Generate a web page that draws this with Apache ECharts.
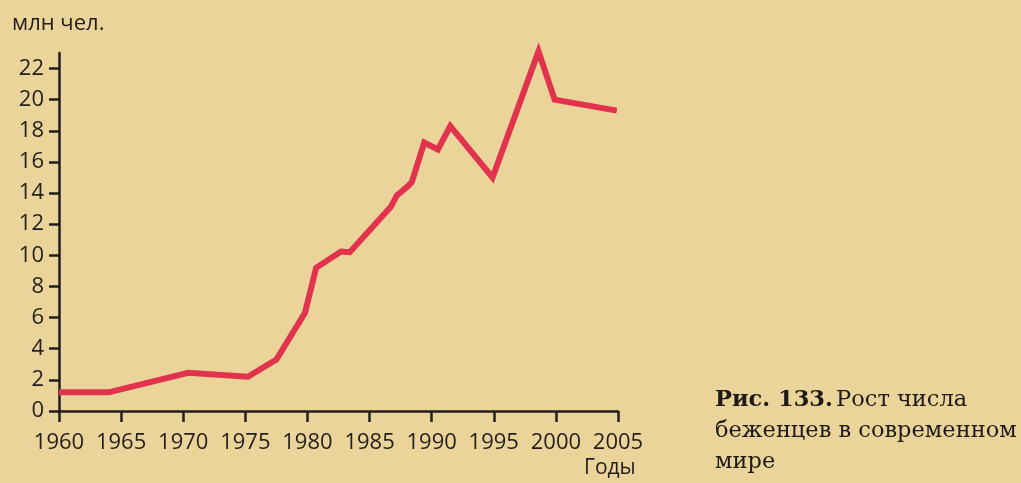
<!DOCTYPE html>
<html>
<head>
<meta charset="utf-8">
<script src="https://cdn.jsdelivr.net/npm/echarts@6/dist/echarts.min.js"></script>
<style>
  html, body { margin: 0; padding: 0; background: #ebd499; }
  #chart { width: 1021px; height: 483px; }
</style>
</head>
<body>
<div id="chart"></div>
<script>
// Refugees worldwide, millions of people, by year
const years = [1960, 1964, 1970.4, 1975.2, 1977.5, 1979.8, 1980.7, 1982.7, 1983.4, 1986.7,
               1987.2, 1988.1, 1988.4, 1989.4, 1990.5, 1991.5, 1994.9, 1998.6, 1999.9, 2004.9];
const refugees = [1.2, 1.2, 2.45, 2.2, 3.3, 6.3, 9.2, 10.25, 10.2, 13.1,
                  13.85, 14.45, 14.7, 17.25, 16.8, 18.3, 15.0, 23.1, 20.0, 19.3];
const yTicks = [0, 2, 4, 6, 8, 10, 12, 14, 16, 18, 20, 22];
const xTicks = [1960, 1965, 1970, 1975, 1980, 1985, 1990, 1995, 2000, 2005];

const yUnit = 'млн чел.';
const xUnit = 'Годы';
const captionBold = 'Рис. 133.';
const captionRest = ['Рост числа', 'беженцев в современном', 'мире'];

const ink = '#221f1c';
const sans = '"Open Sans", "DejaVu Sans", sans-serif';
const serif = '"DejaVu Serif", serif';

const chart = echarts.init(document.getElementById('chart'), null, { renderer: 'canvas' });

chart.setOption({
  backgroundColor: '#ebd499',
  animation: false,
  grid: { left: 59, right: 403, top: 53, bottom: 72, containLabel: false },
  xAxis: {
    type: 'value',
    min: 1960, max: 2005, interval: 5,
    axisLine: { show: true, lineStyle: { color: ink, width: 2.5 } },
    axisTick: { show: true, length: 11, lineStyle: { color: ink, width: 2.5 }, customValues: xTicks },
    axisLabel: { color: ink, fontFamily: sans, fontSize: 22, margin: 21, customValues: xTicks,
                 formatter: v => String(v) },
    splitLine: { show: false }
  },
  yAxis: {
    type: 'value',
    min: 0, max: 23,
    axisLine: { show: true, lineStyle: { color: ink, width: 2.5 } },
    axisTick: { show: true, length: 10, lineStyle: { color: ink, width: 2.5 }, customValues: yTicks },
    axisLabel: { color: ink, fontFamily: sans, fontSize: 22, margin: 15, customValues: yTicks },
    splitLine: { show: false }
  },
  series: [{
    type: 'line',
    data: years.map((y, i) => [y, refugees[i]]),
    showSymbol: false,
    clip: false,
    lineStyle: { color: '#e1324e', width: 6, join: 'miter' }
  }],
  graphic: [
    { type: 'text', left: 12, top: 13,
      style: { text: yUnit, font: '22px ' + sans, fill: ink } },
    { type: 'text', left: 584, top: 458,
      style: { text: xUnit, font: '21px ' + sans, fill: ink } },
    { type: 'text', left: 715, top: 389,
      style: {
        text: '{b|' + captionBold + '} {r|' + captionRest[0] + '}\n{r|' + captionRest[1] + '}\n{r|' + captionRest[2] + '}',
        rich: {
          b: { font: 'bold 22.5px ' + serif, fill: '#1e1a17', lineHeight: 31 },
          r: { font: '22.5px ' + serif, fill: '#1e1a17', lineHeight: 31 }
        }
      } }
  ]
});
</script>
</body>
</html>
